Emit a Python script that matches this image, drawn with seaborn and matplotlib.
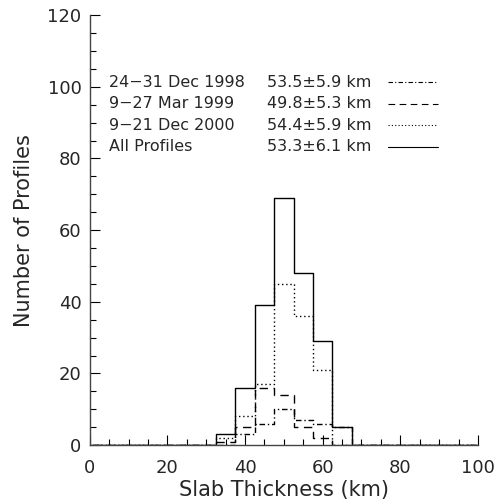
import numpy as np
import pandas as pd
import matplotlib
matplotlib.use("Agg")
import matplotlib.pyplot as plt
import seaborn as sns

# histogram values (bin centres, 5 km bins)
centers = [35, 40, 45, 50, 55, 60, 65]
dec1998 = [0, 3, 6, 10, 7, 6, 5]
mar1999 = [1, 5, 16, 14, 5, 2, 0]
dec2000 = [2, 8, 17, 45, 36, 21, 0]
all_prof = [3, 16, 39, 69, 48, 29, 5]

labels = ["24\u221231 Dec 1998", "9\u221227 Mar 1999", "9\u221221 Dec 2000", "All Profiles"]
stats = ["53.5\u00b15.9 km", "49.8\u00b15.3 km", "54.4\u00b15.9 km", "53.3\u00b16.1 km"]
styles = [(0, (4, 2, 1, 2)), (0, (6, 4)), (0, (1, 2)), "-"]

sns.set_style("ticks")
plt.rcParams['font.family'] = ['DejaVu Sans']

fig = plt.figure(figsize=(5.02, 5.03), dpi=100)
ax = fig.add_axes([0.179, 0.115, 0.773, 0.855])

for counts, ls in zip([dec1998, mar1999, dec2000, all_prof], styles):
    df = pd.DataFrame({"thick": centers, "n": counts})
    sns.histplot(data=df, x="thick", weights="n", binwidth=5, binrange=(-2.5, 102.5),
                 element="step", fill=False, color="black", linewidth=1.0,
                 linestyle=ls, ax=ax)

ax.set_xlim(0, 100)
ax.set_ylim(0, 120)
ax.set_xticks(range(0, 101, 20))
ax.set_xticks(range(0, 101, 5), minor=True)
ax.set_yticks(range(0, 121, 20))
ax.set_yticks(range(0, 121, 5), minor=True)
ax.tick_params(which="both", direction="in", width=0.8, labelsize=13, color="black")
ax.tick_params(which="major", length=7, pad=6)
ax.tick_params(which="minor", length=4)
ax.tick_params(axis="x", which="major", pad=10)
for s in ["top", "right"]:
    ax.spines[s].set_visible(False)
for s in ["left", "bottom"]:
    ax.spines[s].set_linewidth(1.0)
    ax.spines[s].set_color("#444444")

ax.set_xlabel("Slab Thickness (km)", fontsize=15, labelpad=2)
ax.set_ylabel("Number of Profiles", fontsize=15, labelpad=10)

# legend block
ys = [101.2, 95.2, 89.2, 83.2]
for y, lab, st, ls in zip(ys, labels, stats, styles):
    ax.text(4.9, y, lab, fontsize=11.5, va="center", ha="left")
    ax.text(45.6, y, st, fontsize=11.5, va="center", ha="left")
    ax.plot([76.8, 89.7], [y, y], color="black", linewidth=0.8, linestyle=ls)

fig.savefig("out.png", dpi=100)
